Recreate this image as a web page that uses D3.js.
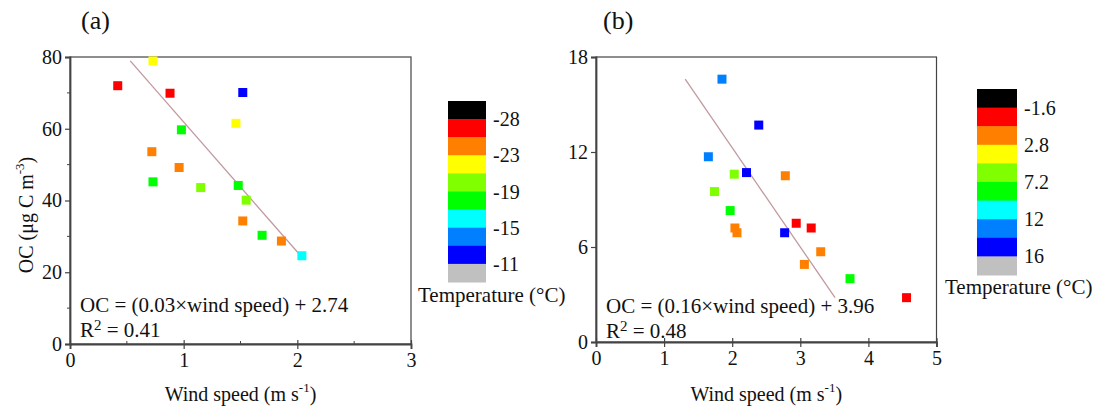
<!DOCTYPE html>
<html>
<head>
<meta charset="utf-8">
<script src="https://cdn.jsdelivr.net/npm/d3@7"></script>
<style>
  body { margin: 0; background: #fff; }
</style>
</head>
<body>
<svg id="chart" width="1106" height="419"></svg>
<script>
// temperature bands (legend order, top to bottom)
const bandNames = ["black", "red", "orange", "yellow", "yellowgreen", "green", "cyan", "azure", "blue", "gray"];
const bandColors = ["#000000", "#ff0000", "#ff8000", "#ffff00", "#80ff00", "#00ff00", "#00ffff", "#0080ff", "#0000ff", "#c0c0c0"];

// panel (a)
const windA = [0.73, 0.42, 0.88, 1.52, 1.46, 0.98, 0.72, 0.96, 0.73, 1.15, 1.48, 1.55, 1.52, 1.69, 1.86, 2.04];
const ocA = [78.9, 72.0, 69.9, 70.1, 61.5, 59.7, 53.6, 49.2, 45.2, 43.6, 44.2, 40.1, 34.3, 30.3, 28.7, 24.6];
const tempA = ["yellow", "red", "red", "blue", "yellow", "green", "orange", "orange", "green", "yellowgreen", "green", "yellowgreen", "orange", "green", "orange", "cyan"];
const fitWindA = [0.53, 2.01];
const fitOcA = [78.9, 25.3];
const xTicksA = [0, 1, 2, 3];
const xMinorA = [0.5, 1.5, 2.5];
const yTicksA = [0, 20, 40, 60, 80];
const yMinorA = [10, 30, 50, 70];
const legendLabelsA = ["-28", "-23", "-19", "-15", "-11"];

// panel (b)
const windB = [1.85, 2.39, 1.65, 2.03, 2.21, 2.78, 1.74, 1.97, 2.04, 2.07, 2.94, 3.16, 2.77, 3.30, 3.06, 3.73, 4.56];
const ocB = [16.6, 13.7, 11.7, 10.6, 10.7, 10.5, 9.5, 8.3, 7.2, 6.9, 7.5, 7.2, 6.9, 5.7, 4.9, 4.0, 2.8];
const tempB = ["azure", "blue", "azure", "yellowgreen", "blue", "orange", "yellowgreen", "green", "orange", "orange", "red", "red", "blue", "orange", "orange", "green", "red"];
const fitWindB = [1.31, 3.51];
const fitOcB = [16.6, 2.8];
const xTicksB = [0, 1, 2, 3, 4, 5];
const yTicksB = [0, 6, 12, 18];
const legendLabelsB = ["-1.6", "2.8", "7.2", "12", "16"];

const FONT = '"Liberation Serif", "Times New Roman", serif';
const svg = d3.select("#chart").attr("font-family", FONT);
const color = d3.scaleOrdinal().domain(bandNames).range(bandColors);
const axisColor = "#444";

function txt(sel) {
    return sel.append("text").attr("font-family", FONT).attr("fill", "#111");
}

function drawPanel(p) {
    const x = d3.scaleLinear().domain(p.xDomain).range([p.left, p.right]);
    const y = d3.scaleLinear().domain(p.yDomain).range([p.bottom, p.top]);
    const g = svg.append("g");

    // frame
    g.append("rect")
        .attr("x", p.left).attr("y", p.top)
        .attr("width", p.right - p.left).attr("height", p.bottom - p.top)
        .attr("fill", "none").attr("stroke", axisColor).attr("stroke-width", 1.2);

    const xAxis = g.append("g")
        .attr("transform", `translate(0,${p.bottom})`)
        .call(d3.axisBottom(x).tickValues(p.xTicks).tickSize(5).tickPadding(4).tickFormat(d3.format("d")));
    const yAxis = g.append("g")
        .attr("transform", `translate(${p.left},0)`)
        .call(d3.axisLeft(y).tickValues(p.yTicks).tickSize(5).tickPadding(3).tickFormat(d3.format("d")));
    [xAxis, yAxis].forEach(a => {
        a.attr("font-family", FONT).attr("font-size", 20);
        a.select(".domain").attr("stroke", axisColor).attr("stroke-width", 1.8);
        a.selectAll(".tick line").attr("stroke", axisColor).attr("stroke-width", 1.2);
        a.selectAll(".tick text").attr("fill", "#111");
    });
    // x major ticks cross the axis
    xAxis.selectAll(".tick line").attr("y1", -4);

    // minor ticks
    g.selectAll(".xminor").data(p.xMinor || []).enter().append("line")
        .attr("x1", d => x(d)).attr("x2", d => x(d))
        .attr("y1", p.bottom - 3).attr("y2", p.bottom)
        .attr("stroke", axisColor);
    g.selectAll(".yminor").data(p.yMinor || []).enter().append("line")
        .attr("x1", p.left - 3).attr("x2", p.left)
        .attr("y1", d => y(d)).attr("y2", d => y(d))
        .attr("stroke", axisColor);

    // fit line
    const fit = p.fitWind.map((w, i) => [w, p.fitOc[i]]);
    g.append("path")
        .datum(fit)
        .attr("d", d3.line().x(d => x(d[0])).y(d => y(d[1])))
        .attr("fill", "none").attr("stroke", "#c09a9e").attr("stroke-width", 1.3);

    // points
    const s = 9;
    g.selectAll(".pt").data(p.wind.map((w, i) => ({ w: w, oc: p.oc[i], t: p.temp[i] })))
        .enter().append("rect")
        .attr("x", d => x(d.w) - s / 2)
        .attr("y", d => y(d.oc) - s / 2)
        .attr("width", s).attr("height", s)
        .attr("fill", d => color(d.t));

    // equation
    txt(g).attr("x", p.left + 10).attr("y", p.eqY).attr("font-size", 21).text(p.equation);
    const r2 = txt(g).attr("x", p.left + 10).attr("y", p.eqY + 25).attr("font-size", 21);
    r2.append("tspan").text("R");
    r2.append("tspan").attr("font-size", 15).attr("dy", -7).text("2");
    r2.append("tspan").attr("dy", 7).text(" = " + p.r2);

    // x axis title
    const xt = txt(g)
        .attr("x", (p.left + p.right) / 2).attr("y", 401)
        .attr("text-anchor", "middle").attr("font-size", 20);
    xt.append("tspan").text("Wind speed (m s");
    xt.append("tspan").attr("font-size", 13).attr("dy", -9).text("-1");
    xt.append("tspan").attr("dy", 9).text(")");

    // y axis title
    if (p.yTitle) {
        const yt = txt(g)
            .attr("transform", `translate(33,215) rotate(-90)`)
            .attr("text-anchor", "middle").attr("font-size", 20);
        yt.append("tspan").text("OC (\u03bcg C m");
        yt.append("tspan").attr("font-size", 13).attr("dy", -9).text("-3");
        yt.append("tspan").attr("dy", 9).text(")");
    }

    // panel tag
    txt(g).attr("x", p.tagX).attr("y", 29).attr("font-size", 26).text(p.tag);

    // colour legend
    const band = d3.scaleBand().domain(bandNames).range([p.legTop, p.legBottom]);
    g.selectAll(".band").data(bandNames).enter().append("rect")
        .attr("x", p.legX).attr("y", d => band(d))
        .attr("width", p.legW).attr("height", band.bandwidth() + 0.5)
        .attr("fill", d => color(d));
    g.selectAll(".leglab").data(p.legendLabels).enter().append("text")
        .attr("font-family", FONT).attr("fill", "#111")
        .attr("x", p.legX + p.legW + 7)
        .attr("y", (d, i) => band(bandNames[i * 2 + 1]))
        .attr("dy", "0.35em").attr("font-size", 20)
        .text(d => d);
    txt(g).attr("x", p.legTitleX).attr("y", p.legTitleY)
        .attr("font-size", 21).text("Temperature (\u00b0C)");
}

drawPanel({
    left: 70, right: 411, top: 57, bottom: 344,
    xDomain: [0, 3], yDomain: [0, 80],
    xTicks: xTicksA, xMinor: xMinorA, yTicks: yTicksA, yMinor: yMinorA,
    wind: windA, oc: ocA, temp: tempA, fitWind: fitWindA, fitOc: fitOcA,
    equation: "OC = (0.03\u00d7wind speed) + 2.74", r2: "0.41", eqY: 312,
    yTitle: true, tag: "(a)", tagX: 81,
    legX: 448, legW: 38, legTop: 101, legBottom: 282,
    legendLabels: legendLabelsA, legTitleX: 418, legTitleY: 302
});

drawPanel({
    left: 596, right: 936.5, top: 57, bottom: 342,
    xDomain: [0, 5], yDomain: [0, 18],
    xTicks: xTicksB, yTicks: yTicksB,
    wind: windB, oc: ocB, temp: tempB, fitWind: fitWindB, fitOc: fitOcB,
    equation: "OC = (0.16\u00d7wind speed) + 3.96", r2: "0.48", eqY: 313,
    yTitle: false, tag: "(b)", tagX: 603,
    legX: 977, legW: 40, legTop: 89, legBottom: 275,
    legendLabels: legendLabelsB, legTitleX: 945, legTitleY: 294
});
</script>
</body>
</html>
